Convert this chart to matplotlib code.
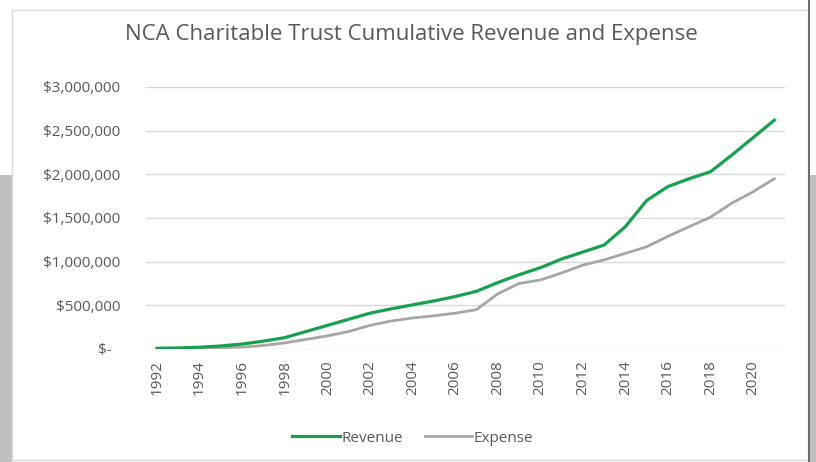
import matplotlib.pyplot as plt
from matplotlib.patches import Rectangle
from matplotlib.ticker import FuncFormatter

# cumulative totals
years = list(range(1992, 2022))
revenue = [8000, 12000, 20000, 35000, 57000, 90000, 130000, 200000, 270000, 340000,
           410000, 460000, 505000, 550000, 600000, 660000, 760000, 850000, 930000, 1030000,
           1110000, 1190000, 1400000, 1700000, 1860000, 1950000, 2030000, 2220000, 2420000, 2620000]
expense = [3000, 6000, 10000, 15000, 22000, 40000, 70000, 110000, 150000, 200000,
           270000, 320000, 355000, 380000, 410000, 450000, 630000, 750000, 790000, 870000,
           960000, 1020000, 1095000, 1170000, 1290000, 1400000, 1510000, 1670000, 1800000, 1950000]
tick_years = years[::2]

plt.rcParams['font.family'] = ['Open Sans', 'DejaVu Sans']
text_color = '#595959'

fig = plt.figure(figsize=(8.16, 4.62), dpi=100)
fig.patch.set_facecolor('white')

# grey page strips behind the chart box
fig.patches.append(Rectangle((0, 0), 12 / 816, 287 / 462, transform=fig.transFigure,
                             facecolor='#bfbfbf', edgecolor='none', zorder=0))
fig.patches.append(Rectangle((809 / 816, 0), 7 / 816, 287 / 462, transform=fig.transFigure,
                             facecolor='#bfbfbf', edgecolor='none', zorder=0))
fig.patches.append(Rectangle((12 / 816, 2 / 462), 796 / 816, 450 / 462, transform=fig.transFigure,
                             facecolor='white', edgecolor='#d9d9d9', lw=1, zorder=0.5))
fig.patches.append(Rectangle((808 / 816, 0), 2 / 816, 1, transform=fig.transFigure,
                             facecolor='#6e6e6e', edgecolor='none', zorder=0.5))

ax = fig.add_axes([0.1794, 0.2446, 0.7826, 0.5671], zorder=2)
ax.set_facecolor('none')
ax.plot(years, revenue, color='#17a04e', lw=2.3, label='Revenue', zorder=3)
ax.plot(years, expense, color='#a6a6a6', lw=2.0, label='Expense', zorder=2)

ax.set_xlim(1991.5, 2021.5)
ax.set_ylim(0, 3000000)
ax.set_yticks(range(0, 3000001, 500000))
ax.yaxis.set_major_formatter(FuncFormatter(lambda v, p: '$-  ' if v == 0 else '${:,.0f}'.format(v)))
ax.set_xticks(tick_years)
ax.set_xticklabels([str(y) for y in tick_years], rotation=90)
ax.tick_params(axis='both', length=0, colors=text_color, labelsize=11)
ax.tick_params(axis='y', pad=19)
ax.tick_params(axis='x', pad=8)
ax.grid(axis='y', color='#d9d9d9', lw=1)
ax.set_axisbelow(True)
for s in ax.spines.values():
    s.set_visible(False)

fig.text(0.504, 0.925, 'NCA Charitable Trust Cumulative Revenue and Expense',
         ha='center', va='center', fontsize=16, color=text_color, zorder=3)

ax.legend(loc='center', bbox_to_anchor=(0.4175, -0.34), ncol=2, frameon=False,
          fontsize=11, labelcolor=text_color, handlelength=3.1, handletextpad=0.1,
          columnspacing=1.45)

plt.savefig('out.png', dpi=100)
